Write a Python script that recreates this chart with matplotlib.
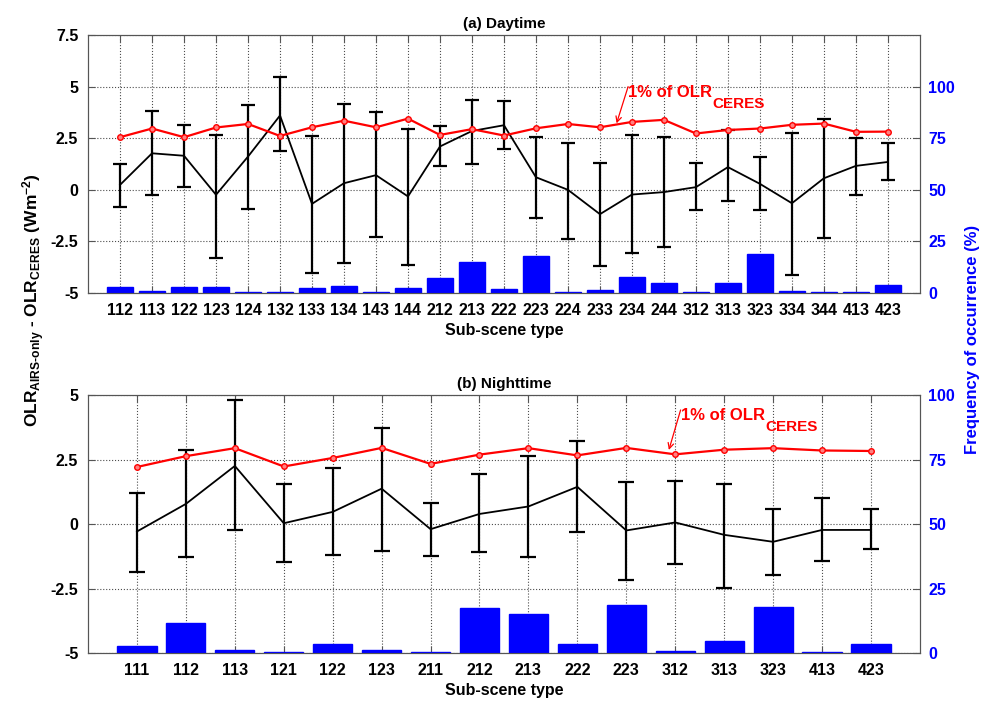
import numpy as np
import matplotlib
matplotlib.use('Agg')
import matplotlib.pyplot as plt

plt.rcParams['font.family'] = ['Liberation Sans', 'DejaVu Sans']
plt.rcParams['font.weight'] = 'bold'
plt.rcParams['mathtext.fontset'] = 'custom'
plt.rcParams['mathtext.rm'] = 'Liberation Sans:bold'
plt.rcParams['mathtext.bf'] = 'Liberation Sans:bold'
plt.rcParams['mathtext.it'] = 'Liberation Sans:bold'

# (a) Daytime
dia_tipos = ['112', '113', '122', '123', '124', '132', '133', '134', '143', '144',
             '212', '213', '222', '223', '224', '233', '234', '244',
             '312', '313', '323', '334', '344', '413', '423']
dia_media = [0.24, 1.77, 1.65, -0.24, 1.61, 3.60, -0.68, 0.32, 0.71, -0.32,
             2.10, 2.85, 3.13, 0.61, 0.00, -1.18, -0.23, -0.11,
             0.13, 1.10, 0.29, -0.65, 0.56, 1.16, 1.35]
dia_sup = [1.26, 3.82, 3.15, 2.66, 4.10, 5.48, 2.61, 4.15, 3.77, 2.94,
           3.10, 4.37, 4.32, 2.55, 2.29, 1.31, 2.64, 2.55,
           1.31, 2.90, 1.58, 2.77, 3.45, 2.53, 2.26]
dia_inf = [-0.85, -0.27, 0.16, -3.29, -0.92, 1.89, -4.03, -3.55, -2.29, -3.63,
           1.13, 1.27, 1.97, -1.35, -2.39, -3.71, -3.06, -2.77,
           -1.00, -0.53, -0.97, -4.15, -2.35, -0.23, 0.50]
dia_ceres = [2.55, 2.97, 2.55, 3.02, 3.19, 2.61, 3.03, 3.35, 3.03, 3.45,
             2.66, 2.94, 2.63, 2.98, 3.19, 3.03, 3.29, 3.39,
             2.73, 2.90, 2.97, 3.15, 3.21, 2.81, 2.82]
dia_frec = [2.9, 0.8, 2.9, 2.9, 0.5, 0.5, 2.6, 3.4, 0.5, 2.6,
            7.4, 15.0, 2.1, 17.9, 0.5, 1.6, 7.6, 4.7,
            0.5, 4.7, 18.9, 0.8, 0.5, 0.5, 3.7]

# (b) Nighttime
noche_tipos = ['111', '112', '113', '121', '122', '123', '211', '212',
               '213', '222', '223', '312', '313', '323', '413', '423']
noche_media = [-0.29, 0.78, 2.25, 0.03, 0.47, 1.37, -0.20, 0.39,
               0.68, 1.44, -0.25, 0.06, -0.42, -0.69, -0.23, -0.23]
noche_sup = [1.22, 2.85, 4.81, 1.57, 2.16, 3.74, 0.81, 1.92,
             2.64, 3.22, 1.63, 1.68, 1.54, 0.60, 0.99, 0.57]
noche_inf = [-1.86, -1.28, -0.25, -1.49, -1.22, -1.03, -1.25, -1.10,
             -1.28, -0.32, -2.17, -1.55, -2.47, -1.98, -1.45, -0.97]
noche_ceres = [2.21, 2.63, 2.94, 2.23, 2.56, 2.95, 2.33, 2.69,
               2.94, 2.66, 2.95, 2.70, 2.88, 2.94, 2.85, 2.83]
noche_frec = [2.8, 11.6, 1.3, 0.4, 3.5, 1.3, 0.4, 17.4,
              15.1, 3.5, 18.6, 0.6, 4.8, 17.8, 0.4, 3.5]

azul = '#0000ff'
rojo = '#ff0000'
gris = '#555555'


def panel(ax, tipos, media, sup, inf, ceres, frec, ymin, ymax, yticks, ylabels,
          rticks, titulo, caps, punta, origen, texto_y):
    n = len(tipos)
    x = np.arange(1, n + 1)
    media = np.array(media)
    err = [media - np.array(inf), np.array(sup) - media]

    ax.set_xlim(0, n + 1)
    ax.set_ylim(ymin, ymax)
    ax.grid(True, linestyle=':', color='0.3', linewidth=0.8)
    ax.set_axisbelow(True)

    ax.errorbar(x, media, yerr=err, color='k', linewidth=1.3, elinewidth=1.6,
                capsize=caps, capthick=1.6, zorder=3)
    ax.plot(x, ceres, color=rojo, linewidth=1.6, marker='o', markersize=4,
            markerfacecolor='#ff8080', markeredgecolor=rojo, zorder=4)

    ax.set_xticks(x)
    ax.set_xticklabels(tipos, fontsize=11.5, fontweight='bold')
    ax.set_yticks(yticks)
    ax.set_yticklabels(ylabels, fontsize=11.5, fontweight='bold')
    ax.tick_params(direction='in', top=True, length=5, color=gris, pad=7)
    ax.set_xlabel('Sub-scene type', fontsize=11.5, fontweight='bold', labelpad=4)
    ax.set_title(titulo, fontsize=11, fontweight='bold', pad=5)
    for s in ax.spines.values():
        s.set_color(gris)

    # flecha y texto "1% of OLR_CERES"
    ax.annotate('', xy=punta, xytext=origen,
                arrowprops=dict(arrowstyle='->', color=rojo, lw=0.9,
                                shrinkA=0, shrinkB=0))
    t = ax.text(origen[0], texto_y, '1% of OLR', color=rojo, fontsize=12,
                fontweight='bold', ha='left', va='center')
    ax.annotate('CERES', xy=(1, 0), xycoords=t, xytext=(0.5, 2.5),
                textcoords='offset points', color=rojo, fontsize=11,
                fontweight='bold', ha='left', va='top')

    ax2 = ax.twinx()
    rango = (ymax - ymin) / 0.1
    ax2.set_ylim(0, rango)
    ax2.bar(x, frec, width=0.8, color=azul, edgecolor=azul, zorder=2)
    ax2.set_yticks(rticks)
    ax2.set_yticklabels([str(t) for t in rticks], color=azul, fontsize=11.5,
                        fontweight='bold')
    ax2.tick_params(direction='in', length=5, color=gris, pad=6)
    for s in ax2.spines.values():
        s.set_color(gris)
    return ax2


fig = plt.figure(figsize=(9.87, 7.02), dpi=100)
ax_a = fig.add_axes([0.0892, 0.5826, 0.8428, 0.3675])
ax_b = fig.add_axes([0.0892, 0.0698, 0.8428, 0.3675])

panel(ax_a, dia_tipos, dia_media, dia_sup, dia_inf, dia_ceres, dia_frec,
      -5, 7.5, [-5, -2.5, 0, 2.5, 5, 7.5], ['-5', '-2.5', '0', '2.5', '5', '7.5'],
      [0, 25, 50, 75, 100], '(a) Daytime', 4.7,
      (16.52, 3.22), (16.88, 5.0), 4.70)

panel(ax_b, noche_tipos, noche_media, noche_sup, noche_inf, noche_ceres, noche_frec,
      -5, 5, [-5, -2.5, 0, 2.5, 5], ['-5', '-2.5', '0', '2.5', '5'],
      [0, 25, 50, 75, 100], '(b) Nighttime', 6,
      (11.87, 2.87), (12.11, 4.42), 4.19)

fig.text(0.034, 0.573,
         r'OLR$_{\mathrm{AIRS\text{-}only}}$ - OLR$_{\mathrm{CERES}}$ (Wm$^{-2}$)',
         rotation=90, ha='center', va='center', fontsize=12.5, fontweight='bold')
fig.text(0.985, 0.516, 'Frequency of occurrence (%)', rotation=90,
         ha='center', va='center', fontsize=12, fontweight='bold', color=azul)

fig.savefig('out.png', dpi=100)
